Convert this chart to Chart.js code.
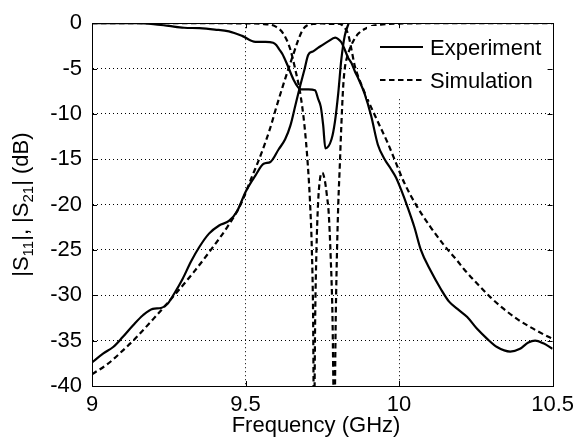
<!DOCTYPE html>
<html><head><meta charset="utf-8">
<script src="https://cdn.jsdelivr.net/npm/chart.js@4"></script>
<style>html,body{margin:0;padding:0;background:#fff}canvas{display:block}</style>
</head><body>
<canvas id="c" width="580" height="439"></canvas>
<script>
const FONT = '"Liberation Sans", Arial, Helvetica, sans-serif';

const xTicks = [9, 9.5, 10, 10.5];
const yTicks = [0, -5, -10, -15, -20, -25, -30, -35, -40];

const expS21Freq = [9.0, 9.037, 9.069, 9.1, 9.134, 9.166, 9.198, 9.225, 9.247, 9.268, 9.295, 9.322, 9.349, 9.381, 9.414, 9.446, 9.473, 9.5, 9.532, 9.559, 9.581, 9.608, 9.629, 9.646, 9.662, 9.678, 9.692, 9.704, 9.72, 9.737, 9.769, 9.792, 9.802, 9.812, 9.823, 9.834, 9.845, 9.856, 9.866, 9.888, 9.909, 9.931, 9.953, 9.974, 9.99, 10.006, 10.028, 10.05, 10.071, 10.103, 10.136, 10.163, 10.19, 10.222, 10.254, 10.287, 10.319, 10.362, 10.394, 10.421, 10.443, 10.47, 10.5];
const expS21Db = [-37.4, -36.4, -35.7, -34.6, -33.3, -32.2, -31.5, -31.4, -30.9, -29.8, -28.2, -26.3, -24.7, -23.2, -22.3, -21.8, -20.7, -18.6, -16.8, -15.5, -15.3, -13.9, -12.8, -11.3, -9.1, -6.9, -5.1, -3.5, -3.1, -2.7, -2.0, -1.6, -1.75, -2.1, -2.9, -3.8, -4.4, -5.3, -6.0, -7.8, -10.2, -13.4, -15.0, -16.1, -17.0, -18.3, -20.3, -22.5, -25.0, -27.3, -29.3, -30.7, -31.5, -32.4, -33.7, -34.8, -35.7, -36.2, -35.9, -35.2, -35.0, -35.3, -35.9];

const expS11Freq = [9.0, 9.15, 9.2, 9.25, 9.3, 9.35, 9.4, 9.446, 9.489, 9.532, 9.565, 9.59, 9.6, 9.61, 9.62, 9.635, 9.656, 9.672, 9.68, 9.705, 9.726, 9.737, 9.745, 9.753, 9.76, 9.78, 9.791, 9.802, 9.812, 9.823, 9.836, 9.845];
const expS11Db = [0, 0, -0.1, -0.3, -0.5, -0.55, -0.7, -0.9, -1.4, -2.05, -2.05, -2.15, -2.4, -2.9, -3.4, -4.5, -6.2, -7.1, -7.3, -7.3, -7.4, -8.4, -9.2, -11.3, -13.8, -12.8, -10.9, -7.7, -4.0, -1.4, 0, 1.0];

const simS21Freq = [9.0, 9.05, 9.1, 9.134, 9.2, 9.268, 9.33, 9.387, 9.44, 9.484, 9.52, 9.55, 9.58, 9.6, 9.62, 9.64, 9.655, 9.67, 9.685, 9.7, 9.72, 9.75, 9.78, 9.8, 9.815, 9.825, 9.835, 9.845, 9.855, 9.865, 9.88, 9.9, 9.915, 9.93, 9.963, 9.985, 10.017, 10.06, 10.103, 10.147, 10.19, 10.211, 10.254, 10.297, 10.341, 10.384, 10.427, 10.47, 10.5];
const simS21Db = [-38.7, -37.6, -36.1, -35.0, -32.6, -30.0, -27.5, -25.0, -22.5, -20.0, -17.0, -14.5, -11.6, -9.3, -7.1, -5.0, -3.5, -2.0, -0.8, -0.25, -0.08, -0.03, -0.08, -0.05, -0.2, -0.6, -1.3, -2.9, -4.6, -5.7, -7.0, -8.6, -9.7, -10.8, -13.2, -15.0, -17.6, -20.3, -22.5, -24.5, -26.2, -27.1, -28.7, -30.2, -31.5, -32.6, -33.5, -34.3, -34.8];

const simS11Freq = [9.0, 9.3, 9.5, 9.56, 9.597, 9.624, 9.646, 9.662, 9.678, 9.692, 9.703, 9.71, 9.716, 9.72, 9.723, 9.727, 9.731, 9.736, 9.742, 9.75, 9.758, 9.765, 9.771, 9.777, 9.783, 9.789, 9.794, 9.798, 9.802, 9.807, 9.812, 9.818, 9.824, 9.832, 9.842, 9.852, 9.866, 9.885, 9.91, 9.94, 10.0, 10.1, 10.5];
const simS11Db = [0, 0, -0.02, -0.1, -0.35, -1.2, -2.9, -5.1, -7.7, -11.3, -15.7, -19.7, -25.0, -32.0, -45, -32.0, -25.0, -20.0, -17.3, -16.5, -17.3, -19.0, -21.0, -25.5, -32.0, -45, -32.0, -25.0, -20.0, -15.7, -11.3, -7.0, -4.8, -3.6, -2.6, -1.9, -1.2, -0.7, -0.35, -0.15, -0.05, 0, 0];

const legendLabels = ['Experiment', 'Simulation'];
const xTitle = 'Frequency (GHz)';
const yTitleParts = [['|S', false], ['11', true], ['|, |S', false], ['21', true], ['| (dB)', false]];

const toXY = (f, d) => f.map((v, i) => ({x: v, y: d[i]}));
const DASH = [5.5, 3.5];
const LW = 2.2;

const overlay = {
  id: 'overlay',
  afterDatasetsDraw(chart) {
    const {ctx, chartArea: a, scales} = chart;
    ctx.save();
    // legend box
    ctx.fillStyle = '#fff';
    ctx.fillRect(367, 26, 186, 73);
    ctx.strokeStyle = '#000';
    ctx.lineWidth = LW;
    ctx.setLineDash([]);
    ctx.beginPath(); ctx.moveTo(380, 47); ctx.lineTo(423, 47); ctx.stroke();
    ctx.setLineDash(DASH);
    ctx.beginPath(); ctx.moveTo(380, 80); ctx.lineTo(424, 80); ctx.stroke();
    ctx.setLineDash([]);
    ctx.fillStyle = '#000';
    ctx.font = '22px ' + FONT;
    ctx.textAlign = 'left';
    ctx.textBaseline = 'alphabetic';
    ctx.fillText(legendLabels[0], 430, 55);
    ctx.fillText(legendLabels[1], 430, 88);
    // frame
    ctx.lineWidth = 1;
    ctx.strokeRect(Math.round(a.left) + 0.5, Math.round(a.top) + 0.5, Math.round(a.right - a.left), Math.round(a.bottom - a.top));
    // inner ticks
    const tl = 5;
    ctx.beginPath();
    xTicks.forEach(v => {
      const x = Math.round(scales.x.getPixelForValue(v)) + 0.5;
      ctx.moveTo(x, a.bottom); ctx.lineTo(x, a.bottom - tl);
      ctx.moveTo(x, a.top); ctx.lineTo(x, a.top + tl);
    });
    yTicks.forEach(v => {
      const y = Math.round(scales.y.getPixelForValue(v)) + 0.5;
      ctx.moveTo(a.left, y); ctx.lineTo(a.left + tl, y);
      ctx.moveTo(a.right, y); ctx.lineTo(a.right - tl, y);
    });
    ctx.stroke();
    // x title
    ctx.font = '22px ' + FONT;
    ctx.textAlign = 'center';
    ctx.fillText(xTitle, 316, 432);
    // y title with subscripts
    ctx.translate(28, (a.top + a.bottom) / 2);
    ctx.rotate(-Math.PI / 2);
    const big = '22px ' + FONT, small = '15px ' + FONT;
    let total = 0;
    yTitleParts.forEach(([t, sub]) => { ctx.font = sub ? small : big; total += ctx.measureText(t).width; });
    let x = -total / 2;
    ctx.textAlign = 'left';
    yTitleParts.forEach(([t, sub]) => {
      ctx.font = sub ? small : big;
      ctx.fillText(t, x, sub ? 5 : 0);
      x += ctx.measureText(t).width;
    });
    ctx.restore();
  }
};

const common = {fill: false, pointRadius: 0, borderWidth: LW, borderColor: '#000', tension: 0, cubicInterpolationMode: 'monotone'};

new Chart(document.getElementById('c'), {
  type: 'line',
  data: {
    datasets: [
      {...common, label: 'Experiment |S21|', data: toXY(expS21Freq, expS21Db)},
      {...common, label: 'Experiment |S11|', data: toXY(expS11Freq, expS11Db)},
      {...common, label: 'Simulation |S21|', data: toXY(simS21Freq, simS21Db), borderDash: DASH},
      {...common, label: 'Simulation |S11|', data: toXY(simS11Freq, simS11Db), borderDash: DASH}
    ]
  },
  options: {
    responsive: false,
    animation: false,
    devicePixelRatio: 1,
    layout: {padding: {top: 22, right: 24, left: 0, bottom: 0}},
    plugins: {legend: {display: false}, tooltip: {enabled: false}},
    scales: {
      x: {
        type: 'linear', min: 9, max: 10.5,
        afterBuildTicks: s => { s.ticks = xTicks.map(v => ({value: v})); },
        afterFit: s => { s.height = 53; },
        ticks: {color: '#000', font: {family: FONT, size: 22}, padding: 6, maxRotation: 0, callback: v => String(v)},
        grid: {drawTicks: false, lineWidth: 1,
          color: c => (c.tick && (c.tick.value === 9.5 || c.tick.value === 10)) ? '#000' : 'rgba(0,0,0,0)'},
        border: {display: true, color: '#000', width: 1, dash: [1, 3]}
      },
      y: {
        type: 'linear', min: -40, max: 0,
        afterBuildTicks: s => { s.ticks = yTicks.map(v => ({value: v})); },
        afterFit: s => { s.width = 92; },
        ticks: {color: '#000', font: {family: FONT, size: 22}, padding: 10, callback: v => String(v)},
        grid: {drawTicks: false, lineWidth: 1,
          color: c => (c.tick && c.tick.value < 0 && c.tick.value > -40) ? '#000' : 'rgba(0,0,0,0)'},
        border: {display: true, color: '#000', width: 1, dash: [1, 3]}
      }
    }
  },
  plugins: [overlay]
});
</script>
</body></html>
